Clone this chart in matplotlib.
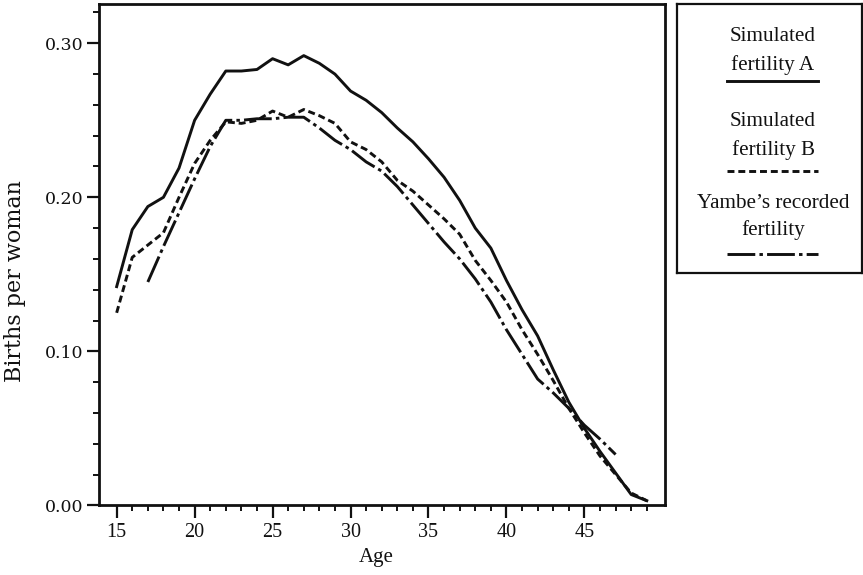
import matplotlib
matplotlib.use("Agg")
import matplotlib.pyplot as plt
from matplotlib.lines import Line2D
from matplotlib.ticker import FixedLocator, FuncFormatter

plt.rcParams["font.family"] = ["Liberation Serif", "DejaVu Serif"]
plt.rcParams["lines.scale_dashes"] = False

# Age-specific fertility (births per woman per year of age)
ages = list(range(15, 50))
fert_a = [0.142, 0.179, 0.194, 0.200, 0.219,
          0.250, 0.267, 0.282, 0.282, 0.283,
          0.290, 0.286, 0.292, 0.287, 0.280,
          0.269, 0.263, 0.255, 0.245, 0.236,
          0.225, 0.213, 0.198, 0.180, 0.167,
          0.146, 0.127, 0.110, 0.088, 0.067,
          0.050, 0.035, 0.021, 0.007, 0.003]
fert_b = [0.125, 0.161, 0.169, 0.177, 0.200,
          0.222, 0.237, 0.249, 0.248, 0.250,
          0.256, 0.252, 0.257, 0.253, 0.248,
          0.236, 0.231, 0.223, 0.211, 0.204,
          0.195, 0.186, 0.176, 0.159, 0.146,
          0.132, 0.114, 0.098, 0.081, 0.063,
          0.047, 0.032, 0.020, 0.008, 0.003]
yambe_ages = list(range(17, 48))
yambe = [0.145, 0.168, 0.190, 0.212, 0.233,
         0.250, 0.250, 0.251, 0.251, 0.252,
         0.252, 0.245, 0.237, 0.231, 0.223,
         0.217, 0.207, 0.195, 0.183, 0.171,
         0.160, 0.147, 0.132, 0.114, 0.098,
         0.082, 0.073, 0.063, 0.052, 0.043,
         0.033]

x_major = [15, 20, 25, 30, 35, 40, 45]
x_minor = [a for a in range(16, 50) if a % 5 != 0]
y_major = [0.00, 0.10, 0.20, 0.30]
y_minor = [0.02, 0.04, 0.06, 0.08, 0.12, 0.14, 0.16, 0.18,
           0.22, 0.24, 0.26, 0.28, 0.32]

legend_labels = [["Simulated", "fertility A"],
                 ["Simulated", "fertility B"],
                 ["Yambe\u2019s recorded", "fertility"]]

INK = "#111111"
LW = 2.1
style_a = dict(color=INK, lw=LW, linestyle="-")
style_b = dict(color=INK, lw=LW, linestyle=(0, (5.0, 2.8)))
style_c = dict(color=INK, lw=LW, linestyle=(0, (20.0, 3.0, 2.5, 3.0)))

fig = plt.figure(figsize=(8.63, 5.75), dpi=100)
ax = fig.add_axes([0.1144, 0.1212, 0.6562, 0.8718])

ax.plot(ages, fert_a, **style_a)
ax.plot(ages, fert_b, **style_b)
ax.plot(yambe_ages, yambe, **style_c)

ax.set_xlim(13.85, 50.17)
ax.set_ylim(0.0, 0.3255)

ax.xaxis.set_major_locator(FixedLocator(x_major))
ax.xaxis.set_minor_locator(FixedLocator(x_minor))
ax.yaxis.set_major_locator(FixedLocator(y_major))
ax.yaxis.set_minor_locator(FixedLocator(y_minor))
ax.yaxis.set_major_formatter(FuncFormatter(lambda v, p: f"{v:.2f}"))

for s in ax.spines.values():
    s.set_linewidth(2.0)
    s.set_color(INK)

ax.tick_params(axis="both", which="major", direction="out", length=9,
               width=1.6, color=INK, labelcolor=INK)
ax.tick_params(axis="both", which="minor", direction="out", length=4.5,
               width=1.4, color=INK)
ax.tick_params(axis="x", which="major", pad=4, labelsize=14.5)
ax.tick_params(axis="y", which="major", pad=2, labelsize=12.5,
               labelfontfamily="DejaVu Serif")

ax.set_xlabel("Age", fontsize=15, color=INK)
ax.xaxis.set_label_coords(0.49, -0.105)
ax.xaxis.label.set_va("center")
ax.set_ylabel("Births per woman", fontsize=16, color=INK,
              family=["DejaVu Serif"])
ax.yaxis.set_label_coords(-0.148, 0.447)
ax.yaxis.label.set_va("center")

# Legend panel drawn as its own framed box
lx0, ly0, lw_, lh_ = 677, 4, 185, 269  # pixel box
W, H = 863, 575
lax = fig.add_axes([lx0 / W, 1 - (ly0 + lh_) / H, lw_ / W, lh_ / H])
lax.set_xlim(0, 1)
lax.set_ylim(0, 1)
lax.set_xticks([])
lax.set_yticks([])
for s in lax.spines.values():
    s.set_linewidth(1.6)
    s.set_color(INK)


def ly(px):
    return (ly0 + lh_ - px) / lh_


cx = (773 - lx0) / lw_
line_x = [(727 - lx0) / lw_, (818 - lx0) / lw_]
text_baselines = [[40.7, 70.0], [126.0, 155.0], [208.3, 235.0]]
line_rows = [80.7, 170.7, 254.0]
styles = [style_a, style_b, style_c]

for labels, bases, row, st in zip(legend_labels, text_baselines, line_rows, styles):
    for txt, b in zip(labels, bases):
        lax.text(cx, ly(b), txt, ha="center", va="baseline",
                 fontsize=15.2, color=INK)
    lax.add_line(Line2D(line_x, [ly(row), ly(row)], **st))

fig.savefig("out.png", dpi=100)
